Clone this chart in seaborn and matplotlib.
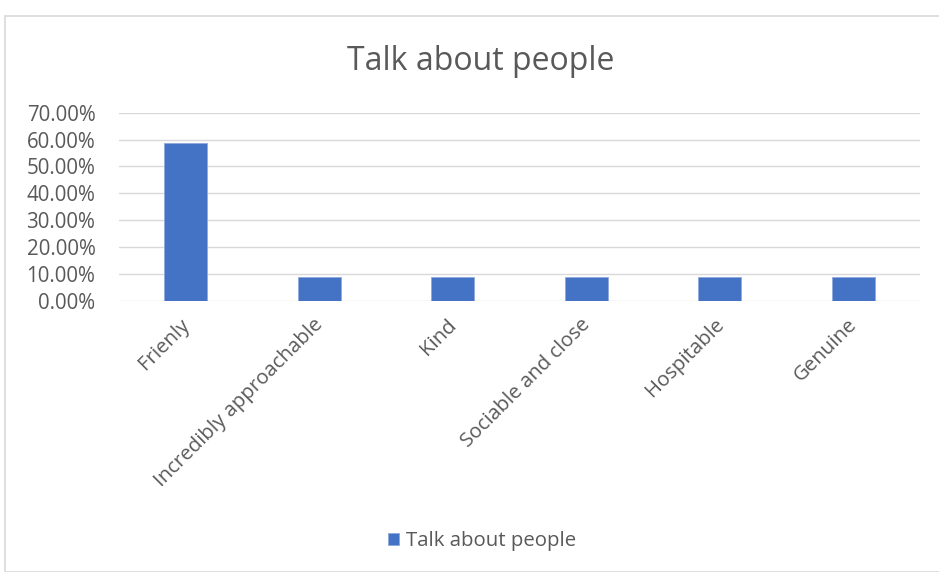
import matplotlib
matplotlib.use("Agg")
import matplotlib.pyplot as plt
import matplotlib.transforms as mtransforms
import seaborn as sns
import pandas as pd
from matplotlib.patches import Rectangle
from matplotlib.ticker import PercentFormatter

categories = ["Frienly", "Incredibly approachable", "Kind", "Sociable and close", "Hospitable", "Genuine"]
values = [58.82, 8.82, 8.82, 8.82, 8.82, 8.82]
series_name = "Talk about people"
title = "Talk about people"

sns.set_theme(style="white")
plt.rcParams['font.family'] = ['Open Sans', 'DejaVu Sans']

df = pd.DataFrame({"category": categories, "value": values})

fig = plt.figure(figsize=(9.39, 5.72), dpi=100)
W, H = 939, 572
ax = fig.add_axes([119 / W, 1 - 301 / H, (920 - 119) / W, (301 - 112.7) / H])

sns.barplot(data=df, x="category", y="value", color="#4472C4", width=0.32,
            saturation=1, ax=ax, label=series_name, edgecolor="#8faadc", linewidth=0.6)

ax.set_ylim(0, 70)
ax.set_yticks(range(0, 71, 10))
ax.yaxis.set_major_formatter(PercentFormatter(decimals=2))
ax.yaxis.grid(True, color="#d9d9d9", linewidth=1)
ax.set_axisbelow(True)
for s in ax.spines.values():
    s.set_visible(False)
ax.set_xlabel("")
ax.set_ylabel("")
ax.tick_params(axis="y", length=0, labelsize=14.8, labelcolor="#595959", pad=17)
ax.tick_params(axis="x", length=0, labelsize=14.7, labelcolor="#595959", pad=10)
offset = mtransforms.ScaledTranslation(-6 / 100, 0, fig.dpi_scale_trans)
for lbl in ax.get_xticklabels():
    lbl.set_rotation(45)
    lbl.set_ha("right")
    lbl.set_rotation_mode("anchor")
    lbl.set_transform(lbl.get_transform() + offset)
ax.set_xlim(-0.5, 5.5)

fig.text(481 / W, 1 - 61 / H, title, ha="center", va="center", fontsize=23, color="#595959")

handles, labels = ax.get_legend_handles_labels()
leg = fig.legend(handles, labels, loc="center", bbox_to_anchor=(482 / W, 1 - 541 / H),
                 frameon=False, fontsize=14.7, handlelength=0.55, handleheight=0.55,
                 handletextpad=0.35, labelcolor="#595959")
if ax.get_legend():
    ax.get_legend().remove()

fig.patches.append(Rectangle((5 / W, 0), 1.0, 1 - 16 / H, transform=fig.transFigure,
                             fill=False, edgecolor="#d9d9d9", linewidth=1.2))

fig.savefig("out.png", dpi=100)
